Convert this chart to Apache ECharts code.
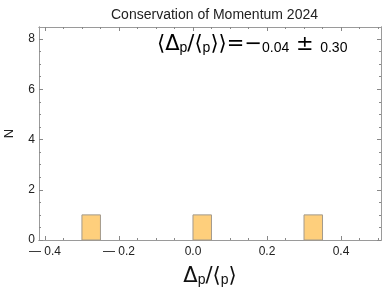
<!DOCTYPE html>
<html><head><meta charset="utf-8">
<script src="https://cdn.jsdelivr.net/npm/echarts@6/dist/echarts.min.js"></script>
<style>html,body{margin:0;padding:0;background:#fff}#c{width:382px;height:291px}</style>
</head><body><div id="c"></div>
<script>
// Data
const binStarts = [-0.30, 0.00, 0.30];
const binWidth = 0.05;
const counts = [1, 1, 1];
const xMajorTicks = [-0.4, -0.2, 0.0, 0.2, 0.4];
const xMinorTicks = [-0.4, -0.35, -0.3, -0.25, -0.2, -0.15, -0.1, -0.05, 0, 0.05, 0.1, 0.15, 0.2, 0.25, 0.3, 0.35, 0.4, 0.45, 0.5];
const yMajorTicks = [0, 2, 4, 6, 8];
const yMinorTicks = [0, 0.5, 1, 1.5, 2, 2.5, 3, 3.5, 4, 4.5, 5, 5.5, 6, 6.5, 7, 7.5, 8];
const titleText = 'Conservation of Momentum 2024';
const meanText = '0.04';
const sdText = '0.30';

const X_MIN = -0.416, X_MAX = 0.508, Y_MIN = 0, Y_MAX = 8.48;
const frame = '#9a9a9a';
const lblColor = '#222';

function xLabel(v) {
  const r = Math.round(v * 10) / 10;
  return r < 0 ? '\u2014 ' + Math.abs(r).toFixed(1) : r.toFixed(1);
}
function mkX(pos, major, withLabel) {
  return {
    type: 'value', position: pos, min: X_MIN, max: X_MAX, gridIndex: 0,
    axisLine: {show: true, onZero: false, lineStyle: {color: frame, width: 1}},
    axisTick: {show: true, inside: true, length: major ? 4 : 2,
      customValues: major ? xMajorTicks : xMinorTicks, lineStyle: {color: '#888'}},
    axisLabel: withLabel ? {show: true, customValues: xMajorTicks, formatter: xLabel,
      color: lblColor, fontSize: 12, fontFamily: 'Liberation Sans', margin: 6} : {show: false},
    splitLine: {show: false}
  };
}
function mkY(pos, major, withLabel) {
  return {
    type: 'value', position: pos, min: Y_MIN, max: Y_MAX, gridIndex: 0,
    axisLine: {show: true, onZero: false, lineStyle: {color: frame, width: 1}},
    axisTick: {show: true, inside: true, length: major ? 4 : 2,
      customValues: major ? yMajorTicks : yMinorTicks, lineStyle: {color: '#888'}},
    axisLabel: withLabel ? {show: true, customValues: yMajorTicks, color: lblColor,
      fontSize: 12, fontFamily: 'Liberation Sans', margin: 4} : {show: false},
    splitLine: {show: false}
  };
}

const xAxes = [mkX('bottom', true, true), mkX('bottom', false, false), mkX('top', true, false), mkX('top', false, false)];
xAxes[0].name = '{b|\u0394}{s|p}{b|/\u27E8}{s|p}{b|\u27E9}';
xAxes[0].nameLocation = 'middle';
xAxes[0].nameGap = 21;
xAxes[0].nameTextStyle = {
  rich: {
    b: {fontSize: 21, fontFamily: 'DejaVu Sans', color: '#111', lineHeight: 26, verticalAlign: 'bottom'},
    s: {fontSize: 14, fontFamily: 'Liberation Sans', color: '#111', lineHeight: 12, verticalAlign: 'bottom'}
  }
};
const yAxes = [mkY('left', true, true), mkY('left', false, false), mkY('right', true, false), mkY('right', false, false)];
yAxes[0].name = 'N';
yAxes[0].nameLocation = 'middle';
yAxes[0].nameRotate = 90;
yAxes[0].nameGap = 23;
yAxes[0].nameTextStyle = {fontSize: 13, fontFamily: 'Liberation Sans', color: '#222'};

const histData = binStarts.map((s, i) => [s, s + binWidth, counts[i]]);

const chart = echarts.init(document.getElementById('c'), null, {renderer: 'canvas'});
chart.setOption({
  animation: false,
  backgroundColor: '#fff',
  title: {text: titleText, left: 106, top: 3,
    textStyle: {fontSize: 14, fontWeight: 'normal', fontFamily: 'Liberation Sans', color: '#222'}},
  grid: {left: 39, right: 1, top: 27, bottom: 51, containLabel: false, outerBoundsMode: 'none'},
  xAxis: xAxes,
  yAxis: yAxes,
  series: [{
    type: 'custom', xAxisIndex: 0, yAxisIndex: 0,
    data: histData,
    encode: {x: [0, 1], y: 2},
    renderItem: function (params, api) {
      const p0 = api.coord([api.value(0), 0]);
      const p1 = api.coord([api.value(1), api.value(2)]);
      return {
        type: 'rect',
        shape: {x: p0[0], y: p1[1], width: p1[0] - p0[0], height: p0[1] - p1[1]},
        style: {fill: '#FECF7C', stroke: '#a39a8c', lineWidth: 1}
      };
    }
  }],
  graphic: [{
    type: 'text', left: 157, top: 34,
    style: {
      text: '{b|\u27E8\u0394}{s|p}{b|/\u27E8}{s|p}{b|\u27E9\u27E9=\u2212}{m|' + meanText + '}{b| \u00B1 }{m|' + sdText + '}',
      rich: {
        b: {fontSize: 21, fontFamily: 'DejaVu Sans', color: '#111', lineHeight: 26, verticalAlign: 'bottom'},
        s: {fontSize: 14, fontFamily: 'Liberation Sans', color: '#111', lineHeight: 12, verticalAlign: 'bottom'},
        m: {fontSize: 14, fontFamily: 'Liberation Sans', color: '#111', lineHeight: 20, verticalAlign: 'bottom'}
      }
    }
  }]
});
</script></body></html>
